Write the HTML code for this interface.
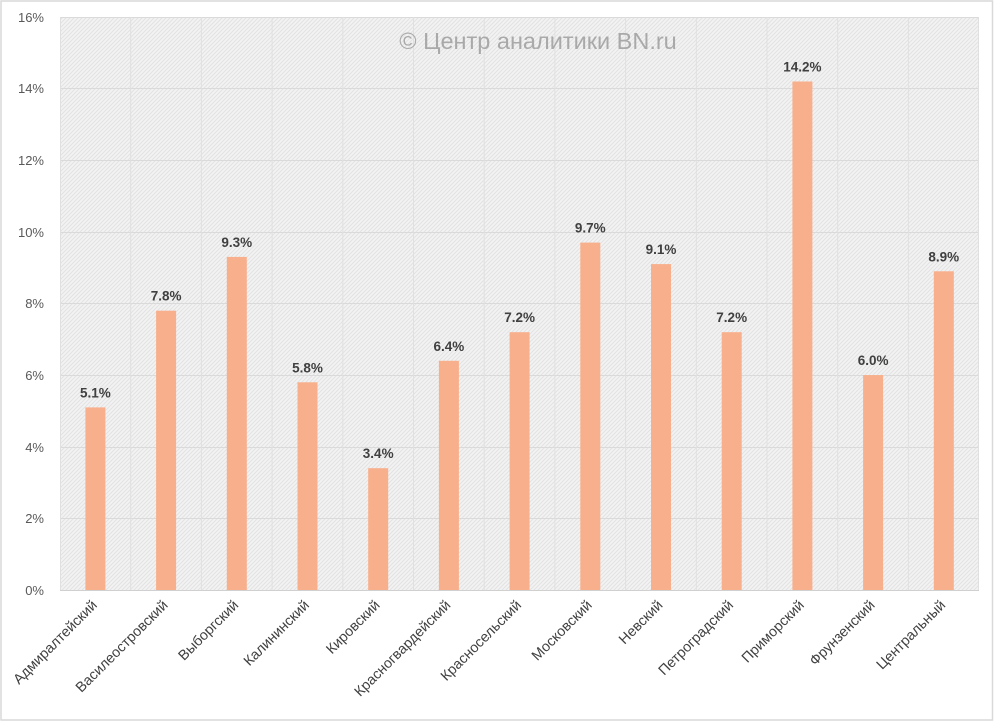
<!DOCTYPE html>
<html><head><meta charset="utf-8"><style>
html,body{margin:0;padding:0;background:#fff;}
svg{display:block;}
text{font-family:"Liberation Sans","DejaVu Sans",sans-serif;}
</style></head><body>
<svg width="994" height="721" viewBox="0 0 994 721" xmlns="http://www.w3.org/2000/svg">
<defs>
<pattern id="hatch" patternUnits="userSpaceOnUse" width="4" height="4">
<rect width="4" height="4" fill="#f3f3f3"/>
<path d="M-1,1 l2,-2 M0,4 l4,-4 M3,5 l2,-2" stroke="#e2e2e2" stroke-width="1"/>
</pattern>
</defs>
<rect x="0" y="0" width="994" height="721" fill="#fff"/>
<rect x="1" y="1" width="991.5" height="719" fill="none" stroke="#d9d9d9" stroke-width="1.5"/>
<rect x="60" y="17" width="919" height="573" fill="url(#hatch)"/>
<g stroke="#dadada" stroke-width="1">
<line x1="60" y1="17.5" x2="979" y2="17.5"/>
<line x1="60" y1="88.5" x2="979" y2="88.5"/>
<line x1="60" y1="160.5" x2="979" y2="160.5"/>
<line x1="60" y1="232.5" x2="979" y2="232.5"/>
<line x1="60" y1="303.5" x2="979" y2="303.5"/>
<line x1="60" y1="375.5" x2="979" y2="375.5"/>
<line x1="60" y1="447.5" x2="979" y2="447.5"/>
<line x1="60" y1="518.5" x2="979" y2="518.5"/>
</g>
<g stroke="#e0e0e0" stroke-width="1">
<line x1="60.5" y1="17" x2="60.5" y2="590"/>
<line x1="130.7" y1="17" x2="130.7" y2="590"/>
<line x1="201.4" y1="17" x2="201.4" y2="590"/>
<line x1="272.1" y1="17" x2="272.1" y2="590"/>
<line x1="342.8" y1="17" x2="342.8" y2="590"/>
<line x1="413.5" y1="17" x2="413.5" y2="590"/>
<line x1="484.2" y1="17" x2="484.2" y2="590"/>
<line x1="554.9" y1="17" x2="554.9" y2="590"/>
<line x1="625.6" y1="17" x2="625.6" y2="590"/>
<line x1="696.3" y1="17" x2="696.3" y2="590"/>
<line x1="767" y1="17" x2="767" y2="590"/>
<line x1="837.7" y1="17" x2="837.7" y2="590"/>
<line x1="908.4" y1="17" x2="908.4" y2="590"/>
<line x1="978.5" y1="17" x2="978.5" y2="590"/>
</g>
<line x1="60" y1="590.5" x2="979" y2="590.5" stroke="#d0d0d0" stroke-width="1"/>

<text x="538" y="49" font-size="23.5" fill="#a9a9a9" text-anchor="middle">© Центр аналитики BN.ru</text>

<g font-size="13" fill="#595959" text-anchor="end">
<text x="44" y="22">16%</text>
<text x="44" y="93">14%</text>
<text x="44" y="165">12%</text>
<text x="44" y="237">10%</text>
<text x="44" y="308">8%</text>
<text x="44" y="380">6%</text>
<text x="44" y="452">4%</text>
<text x="44" y="523">2%</text>
<text x="44" y="595">0%</text>
</g>

<g fill="#f8af8b">
<rect x="85.4" y="407.4" width="20" height="182.6"/>
<rect x="156.1" y="310.7" width="20" height="279.3"/>
<rect x="226.8" y="256.9" width="20" height="333.1"/>
<rect x="297.5" y="382.3" width="20" height="207.7"/>
<rect x="368.2" y="468.2" width="20" height="121.8"/>
<rect x="438.9" y="360.8" width="20" height="229.2"/>
<rect x="509.6" y="332.2" width="20" height="257.8"/>
<rect x="580.3" y="242.6" width="20" height="347.4"/>
<rect x="651" y="264.1" width="20" height="325.9"/>
<rect x="721.7" y="332.2" width="20" height="257.8"/>
<rect x="792.4" y="81.5" width="20" height="508.5"/>
<rect x="863.1" y="375.1" width="20" height="214.9"/>
<rect x="933.8" y="271.3" width="20" height="318.7"/>
</g>

<g font-size="13.5" font-weight="bold" fill="#404040" text-anchor="middle">
<text x="95.4" y="397.4">5.1%</text>
<text x="166.1" y="300.7">7.8%</text>
<text x="236.8" y="246.9">9.3%</text>
<text x="307.5" y="372.3">5.8%</text>
<text x="378.2" y="458.2">3.4%</text>
<text x="448.9" y="350.8">6.4%</text>
<text x="519.6" y="322.2">7.2%</text>
<text x="590.3" y="232.6">9.7%</text>
<text x="661" y="254.1">9.1%</text>
<text x="731.7" y="322.2">7.2%</text>
<text x="802.4" y="71.5">14.2%</text>
<text x="873.1" y="365.1">6.0%</text>
<text x="943.8" y="261.3">8.9%</text>
</g>

<g font-size="14.3" fill="#404040" text-anchor="end">
<text transform="translate(97.9,606) rotate(-45)">Адмиралтейский</text>
<text transform="translate(168.6,606) rotate(-45)">Василеостровский</text>
<text transform="translate(239.3,606) rotate(-45)">Выборгский</text>
<text transform="translate(310,606) rotate(-45)">Калининский</text>
<text transform="translate(380.7,606) rotate(-45)">Кировский</text>
<text transform="translate(451.4,606) rotate(-45)">Красногвардейский</text>
<text transform="translate(522.1,606) rotate(-45)">Красносельский</text>
<text transform="translate(592.8,606) rotate(-45)">Московский</text>
<text transform="translate(663.5,606) rotate(-45)">Невский</text>
<text transform="translate(734.2,606) rotate(-45)">Петроградский</text>
<text transform="translate(804.9,606) rotate(-45)">Приморский</text>
<text transform="translate(875.6,606) rotate(-45)">Фрунзенский</text>
<text transform="translate(946.3,606) rotate(-45)">Центральный</text>
</g>
</svg>
</body></html>
